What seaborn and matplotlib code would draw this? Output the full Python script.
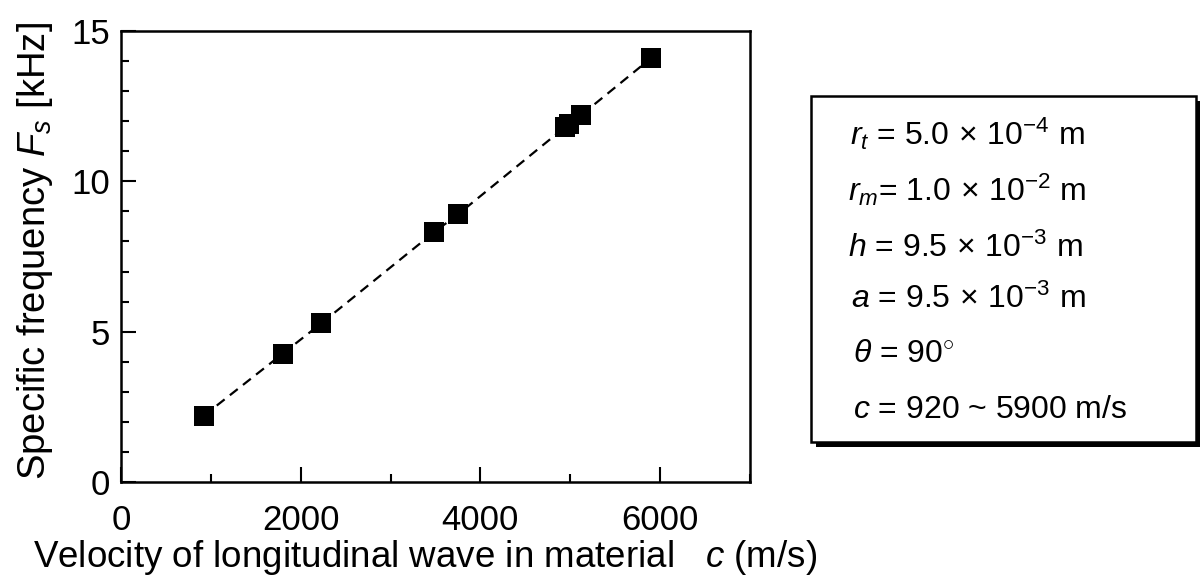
import matplotlib
matplotlib.use("Agg")
import matplotlib.pyplot as plt
from matplotlib.patches import Rectangle
from matplotlib.ticker import MultipleLocator
import seaborn as sns
import pandas as pd

# ---- data ----
velocity = [920, 1800, 2230, 3480, 3750, 4940, 4990, 5120, 5900]
frequency = [2.2, 4.27, 5.28, 8.3, 8.9, 11.8, 11.9, 12.2, 14.1]

x_label = "Velocity of longitudinal wave in material   $c$ (m/s)"
y_label = "Specific frequency $F_s$ [kHz]"
x_ticks = [0, 2000, 4000, 6000]
y_ticks = [0, 5, 10, 15]
param_lines = [
    r"$r_t$ = 5.0$\,\times\,$10$^{-4}$ m",
    r"$r_m$= 1.0$\,\times\,$10$^{-2}$ m",
    r"$h$ = 9.5$\,\times\,$10$^{-3}$ m",
    r"$a$ = 9.5$\,\times\,$10$^{-3}$ m",
    r"$\theta$ = 90$^{\circ}$",
    r"$c$ = 920 ~ 5900 m/s",
]

df = pd.DataFrame({"c": velocity, "F": frequency})

sns.set_theme(style="white")
plt.rcParams["font.family"] = ["Liberation Sans", "DejaVu Sans"]
plt.rcParams["mathtext.fontset"] = "custom"
plt.rcParams["mathtext.rm"] = "Liberation Sans"
plt.rcParams["mathtext.it"] = "Liberation Sans:italic"
plt.rcParams["mathtext.bf"] = "Liberation Sans:bold"

fig = plt.figure(figsize=(12, 5.8), dpi=100)
ax = fig.add_axes([121 / 1200, 1 - 482 / 580, (750 - 121) / 1200, (482 - 31) / 580])

sns.lineplot(data=df, x="c", y="F", ax=ax, color="black", linewidth=1.6,
             dashes=False, sort=True, zorder=2)
ax.lines[0].set_dashes([4.5, 3])
sns.scatterplot(data=df, x="c", y="F", ax=ax, marker="s", s=195,
                color="black", linewidth=0, zorder=3)

ax.set_xlim(0, 7000)
ax.set_ylim(0, 15)
ax.set_xticks(x_ticks)
ax.set_yticks(y_ticks)
ax.xaxis.set_minor_locator(MultipleLocator(1000))
ax.yaxis.set_minor_locator(MultipleLocator(1))
ax.tick_params(which="major", direction="in", length=11, width=1.5,
               labelsize=25, color="black", labelcolor="black")
ax.tick_params(which="minor", direction="in", length=6, width=1.5, color="black")
ax.tick_params(axis="x", which="major", pad=16, bottom=True)
ax.tick_params(axis="y", which="major", pad=8, left=True)
ax.tick_params(axis="x", which="minor", bottom=True)
ax.tick_params(axis="y", which="minor", left=True)
for sp in ax.spines.values():
    sp.set_linewidth(1.8)
    sp.set_color("black")

ax.set_xlabel(x_label, fontsize=26.5, color="black")
ax.set_ylabel(y_label, fontsize=27.5, color="black")
ax.xaxis.label.set_va("baseline")
ax.xaxis.set_label_coords(0.483, -(567 - 482) / 451)
ax.yaxis.set_label_coords(-(121 - 55) / 629, 0.512)

# parameter panel with drop shadow
bx0, bx1 = 811 / 1200, 1196 / 1200
by0, by1 = 1 - 442 / 580, 1 - 96 / 580
sh_dx, sh_dy = 5 / 1200, 5 / 580
fig.patches.append(Rectangle((bx0 + sh_dx, by0 - sh_dy), bx1 - bx0, by1 - by0,
                             transform=fig.transFigure, facecolor="black",
                             edgecolor="black", linewidth=0, zorder=1))
fig.patches.append(Rectangle((bx0, by0), bx1 - bx0, by1 - by0,
                             transform=fig.transFigure, facecolor="white",
                             edgecolor="black", linewidth=1.8, zorder=2))

baselines = [145, 201, 257, 308, 362, 418]
lefts = [850, 848, 848, 851, 853, 853]
for txt, yb, xl in zip(param_lines, baselines, lefts):
    fig.text(xl / 1200, 1 - yb / 580, txt, fontsize=23, ha="left",
             va="baseline", color="black", zorder=3)

fig.savefig("out.png", dpi=100)
